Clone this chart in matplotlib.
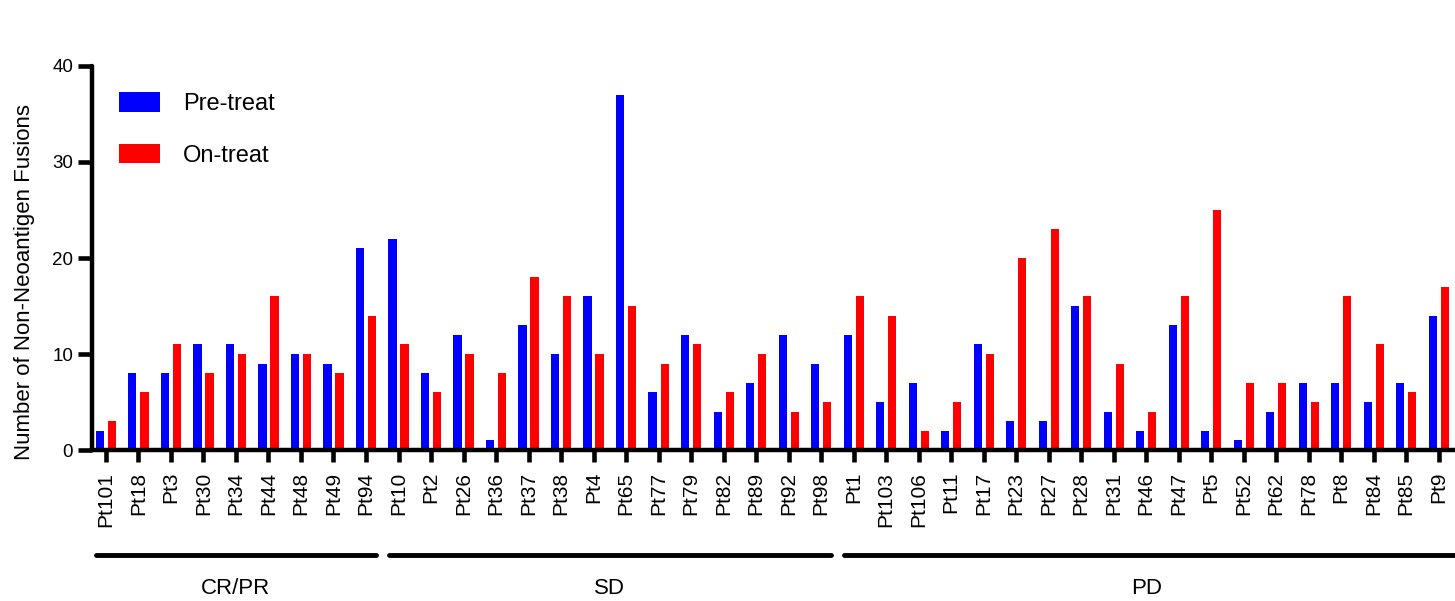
import numpy as np
import matplotlib.pyplot as plt
from matplotlib.transforms import blended_transform_factory

plt.rcParams['font.family'] = ['Liberation Sans', 'DejaVu Sans']

# patients per response group
cr_pr = ["Pt101", "Pt18", "Pt3", "Pt30", "Pt34", "Pt44", "Pt48", "Pt49", "Pt94"]
sd = ["Pt10", "Pt2", "Pt26", "Pt36", "Pt37", "Pt38", "Pt4", "Pt65", "Pt77",
      "Pt79", "Pt82", "Pt89", "Pt92", "Pt98"]
pd_ = ["Pt1", "Pt103", "Pt106", "Pt11", "Pt17", "Pt23", "Pt27", "Pt28", "Pt31",
       "Pt46", "Pt47", "Pt5", "Pt52", "Pt62", "Pt78", "Pt8", "Pt84", "Pt85", "Pt9"]

pre_crpr = [2, 8, 8, 11, 11, 9, 10, 9, 21]
on_crpr = [3, 6, 11, 8, 10, 16, 10, 8, 14]
pre_sd = [22, 8, 12, 1, 13, 10, 16, 37, 6, 12, 4, 7, 12, 9]
on_sd = [11, 6, 10, 8, 18, 16, 10, 15, 9, 11, 6, 10, 4, 5]
pre_pd = [12, 5, 7, 2, 11, 3, 3, 15, 4, 2, 13, 2, 1, 4, 7, 7, 5, 7, 14]
on_pd = [16, 14, 2, 5, 10, 20, 23, 16, 9, 4, 16, 25, 7, 7, 5, 16, 11, 6, 17]

groups = ["CR/PR", "SD", "PD"]

patients = cr_pr + sd + pd_
pre = pre_crpr + pre_sd + pre_pd
on = on_crpr + on_sd + on_pd
x = np.arange(len(patients))

fig = plt.figure(figsize=(14.55, 6.01), dpi=100)
ax = fig.add_axes([0.0632, 0.2512, 0.9368, 0.6390])

bw = 0.25
off = 0.185
ax.bar(x - off, pre, width=bw, color='#0000ff', label='Pre-treat')
ax.bar(x + off, on, width=bw, color='#ff0000', label='On-treat')

ax.set_xlim(-0.43, 41.5)
ax.set_ylim(0, 40)
ax.set_yticks([0, 10, 20, 30, 40])
ax.set_xticks(x)
ax.set_xticklabels(patients, rotation=90, fontsize=15)
ax.tick_params(axis='y', labelsize=13.5, length=10, width=3.3, pad=3.6)
ax.tick_params(axis='x', length=8.6, width=3.3, pad=7)

for s in ['top', 'right']:
    ax.spines[s].set_visible(False)
ax.spines['left'].set_linewidth(3.2)
ax.spines['bottom'].set_linewidth(3.2)
ax.spines['left'].set_capstyle('round')

fig.text(25 / 1455, 1 - 282 / 601, 'Number of Non-Neoantigen Fusions', rotation=90,
         ha='center', va='center', fontsize=16)

# group brackets under the tick labels (last one runs off the right edge)
tr = blended_transform_factory(ax.transData, fig.transFigure)
start = 0
for k, (name, members) in enumerate(zip(groups, [cr_pr, sd, pd_])):
    end = start + len(members) - 1
    hi = end + (0.8 if k == len(groups) - 1 else 0.3)
    ax.plot([start - 0.3, hi], [1 - 555 / 601] * 2, color='black', lw=3.5,
            solid_capstyle='round', transform=tr, clip_on=False)
    ax.text((start + end) / 2, 1 - 589 / 601, name, ha='center', va='center',
            fontsize=16, transform=tr)
    start = end + 1

ax.legend(loc='upper left', bbox_to_anchor=(0.0198, 0.932), frameon=False,
          fontsize=17, handlelength=1.74, handleheight=0.89, handletextpad=0.97,
          labelspacing=1.23, borderpad=0, borderaxespad=0)

plt.savefig('out.png', dpi=100)
